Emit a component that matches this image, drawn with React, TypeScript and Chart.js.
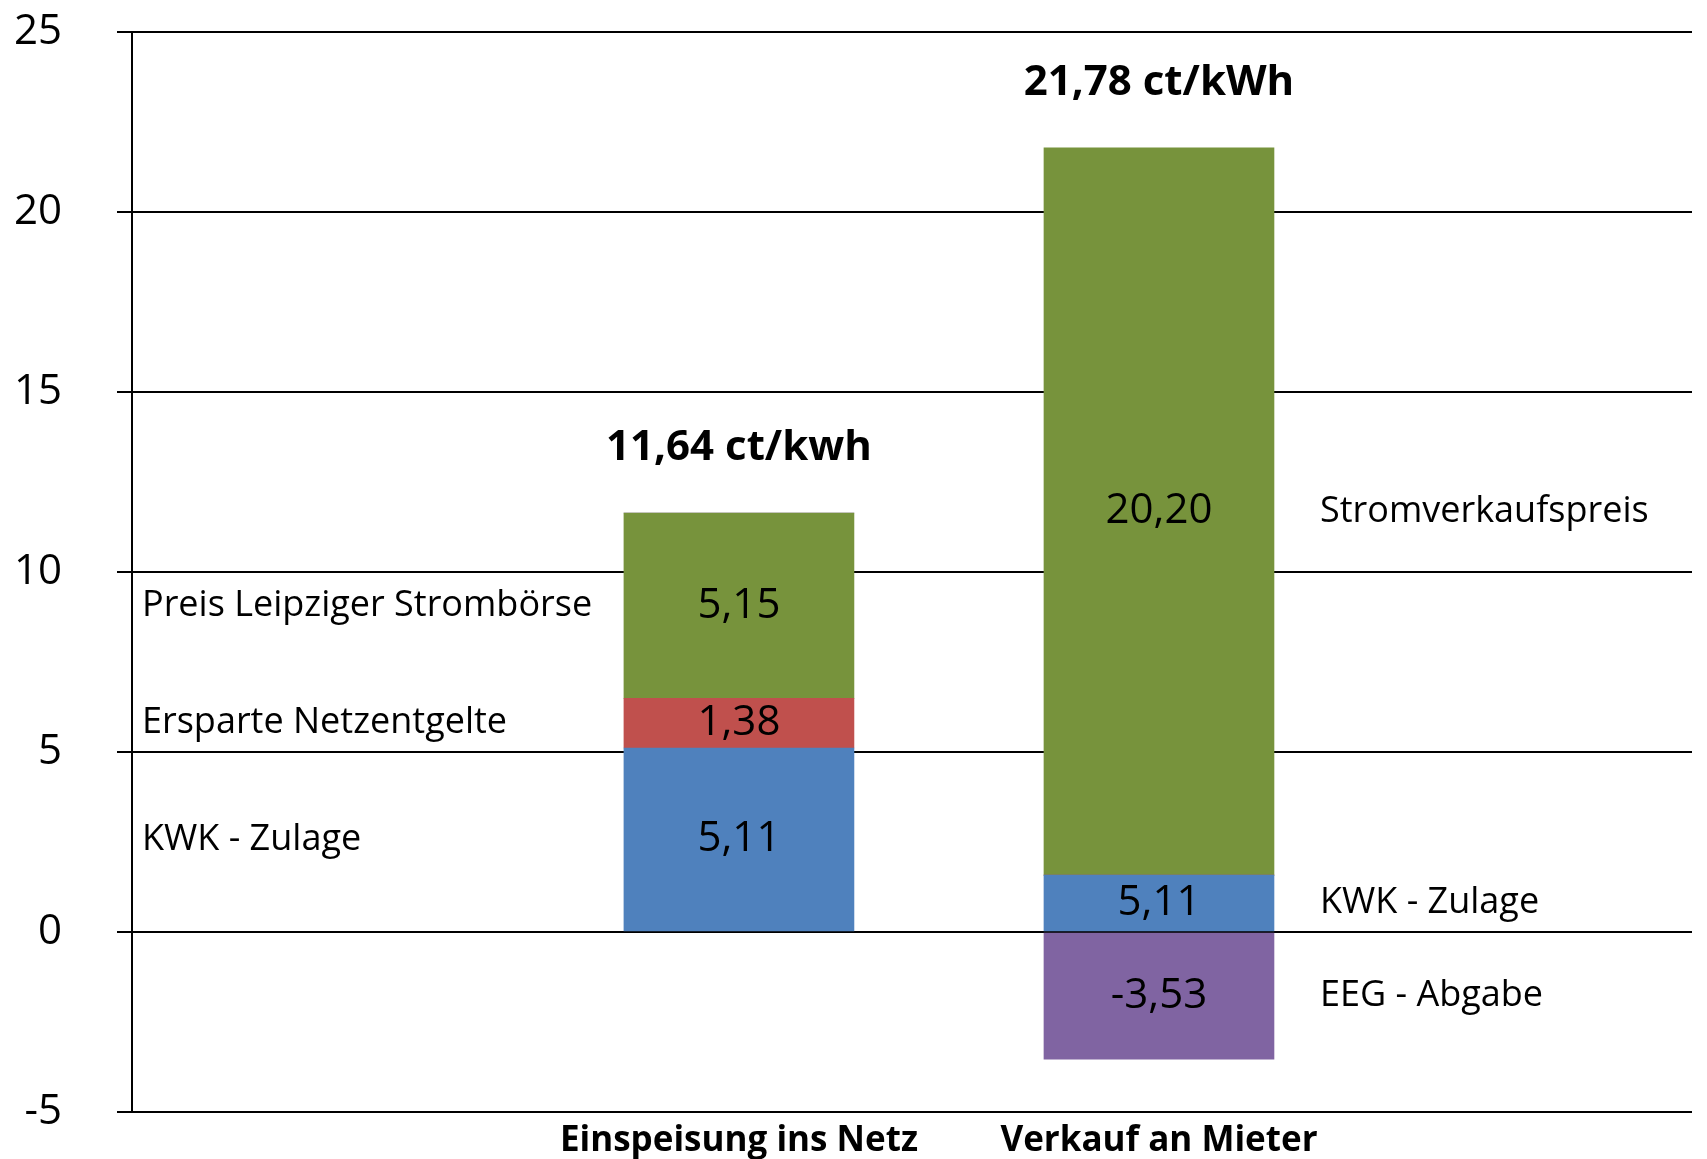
import React, { useEffect, useRef } from "react";
import { Chart, registerables } from "chart.js";

Chart.register(...registerables);

// ---- data ----
const categories = ["Einspeisung ins Netz", "Verkauf an Mieter"];
const categoryPositions = [1, 2];
const totalLabels = ["11,64 ct/kwh", "21,78 ct/kWh"];

const kwkValues = [5.11, 1.58];
const netzValues = [1.38, 0];
const stromValues = [5.15, 20.2];
const eegValues = [0, -3.53];

const kwkLabels = ["5,11", "5,11"];
const netzLabels = ["1,38", ""];
const stromLabels = ["5,15", "20,20"];
const eegLabels = ["", "-3,53"];

const kwkSideLabels = ["KWK - Zulage", "KWK - Zulage"];
const netzSideLabels = ["Ersparte Netzentgelte", ""];
const stromSideLabels = ["Preis Leipziger Strombörse", "Stromverkaufspreis"];
const eegSideLabels = ["", "EEG - Abgabe"];

const yMin = -5;
const yMax = 25;
const yStep = 5;

const FONT = "'Open Sans', Lato, sans-serif";

export default function App() {
  const canvasRef = useRef<HTMLCanvasElement | null>(null);

  useEffect(() => {
    let chart: Chart | null = null;
    let cancelled = false;

    const seriesDefs = [
      { name: "KWK - Zulage", values: kwkValues, labels: kwkLabels, side: kwkSideLabels, color: "#4F81BD" },
      { name: "Ersparte Netzentgelte", values: netzValues, labels: netzLabels, side: netzSideLabels, color: "#C0504D" },
      { name: "Strompreis", values: stromValues, labels: stromLabels, side: stromSideLabels, color: "#77933C" },
      { name: "EEG - Abgabe", values: eegValues, labels: eegLabels, side: eegSideLabels, color: "#8064A2" },
    ];

    const labelPlugin = {
      id: "barTexts",
      afterDatasetsDraw(c: any) {
        const ctx = c.ctx;
        const area = c.chartArea;
        ctx.save();
        ctx.fillStyle = "#000";
        ctx.textBaseline = "middle";
        const tops: number[] = categoryPositions.map(() => Infinity);
        seriesDefs.forEach((s, i) => {
          const meta = c.getDatasetMeta(i);
          meta.data.forEach((el: any, j: number) => {
            if (!s.values[j]) return;
            const top = Math.min(el.y, el.base);
            const bottom = Math.max(el.y, el.base);
            const cy = (top + bottom) / 2;
            tops[j] = Math.min(tops[j], top);
            if (s.labels[j]) {
              ctx.font = `42px ${FONT}`;
              ctx.textAlign = "center";
              ctx.fillText(s.labels[j], el.x, cy);
            }
            if (s.side[j]) {
              ctx.font = `36px ${FONT}`;
              ctx.textAlign = "left";
              const sx = j === 0 ? area.left + 10 : el.x + el.width / 2 + 46;
              ctx.fillText(s.side[j], sx, cy);
            }
          });
        });
        ctx.font = `bold 42px ${FONT}`;
        ctx.textAlign = "center";
        const meta0 = c.getDatasetMeta(0);
        categoryPositions.forEach((_, j) => {
          const el: any = meta0.data[j];
          ctx.fillText(totalLabels[j], el.x, tops[j] - 65);
        });
        ctx.restore();
      },
    };

    const create = () => {
      if (cancelled || !canvasRef.current) return;
      chart = new Chart(canvasRef.current, {
        type: "bar",
        data: {
          datasets: seriesDefs.map((s) => ({
            label: s.name,
            data: categoryPositions.map((x, j) => ({ x, y: s.values[j] })),
            backgroundColor: s.color,
            borderWidth: 0,
            barThickness: 230,
          })),
        },
        options: {
          responsive: false,
          animation: false,
          events: [],
          layout: { autoPadding: false, padding: { top: 32, right: 15, left: 0, bottom: 0 } },
          plugins: {
            legend: { display: false },
            tooltip: { enabled: false },
            title: { display: false },
          },
          scales: {
            x: {
              type: "linear",
              stacked: true,
              offset: false,
              min: -0.445,
              max: 3.269,
              grid: { display: false, offset: false },
              border: { display: false },
              afterBuildTicks: (s: any) => {
                s.ticks = categoryPositions.map((v) => ({ value: v }));
              },
              afterFit: (s: any) => {
                s.height = 47;
                s.paddingLeft = 0;
                s.paddingRight = 0;
                s.paddingTop = 0;
                s.paddingBottom = 0;
              },
              ticks: {
                autoSkip: false,
                maxRotation: 0,
                padding: 0,
                color: "#000",
                font: { family: FONT, size: 35, weight: "bold" },
                callback: (v: any) => {
                  const idx = categoryPositions.indexOf(Number(v));
                  return idx >= 0 ? categories[idx] : "";
                },
              },
            },
            y: {
              stacked: true,
              min: yMin,
              max: yMax,
              afterFit: (s: any) => {
                s.width = 132;
                s.paddingTop = 0;
                s.paddingBottom = 0;
                s.paddingLeft = 0;
                s.paddingRight = 0;
              },
              ticks: {
                stepSize: yStep,
                padding: 55,
                color: "#000",
                font: { family: FONT, size: 42 },
              },
              grid: {
                color: "#000",
                lineWidth: 2,
                tickLength: 15,
                drawTicks: true,
              },
              border: { display: true, color: "#000", width: 2 },
            },
          },
        },
        plugins: [labelPlugin],
      } as any);
    };

    const fontsApi: any = (document as any).fonts;
    if (fontsApi && fontsApi.load) {
      Promise.all([
        fontsApi.load(`42px "Open Sans"`),
        fontsApi.load(`bold 36px "Open Sans"`),
      ])
        .catch(() => undefined)
        .then(create);
    } else {
      create();
    }

    return () => {
      cancelled = true;
      if (chart) chart.destroy();
    };
  }, []);

  return (
    <div style={{ position: "fixed", left: 0, top: 0, width: 1707, height: 1159, background: "#fff" }}>
      <canvas ref={canvasRef} width={1707} height={1159} style={{ display: "block" }} />
    </div>
  );
}
